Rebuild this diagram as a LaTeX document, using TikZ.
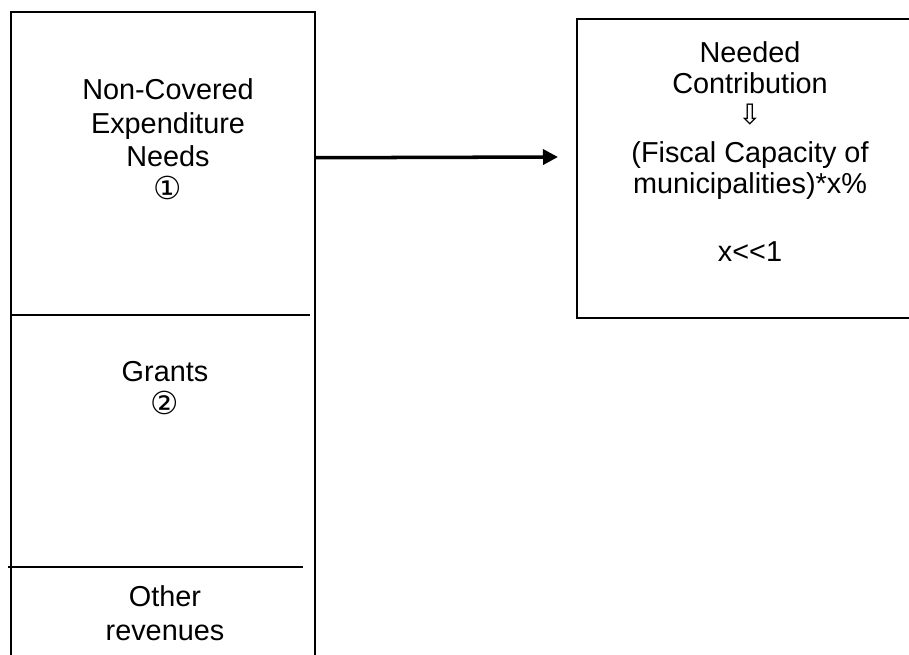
\documentclass[tikz,border=0pt]{standalone}
\usepackage{fontspec}
\setmainfont{Liberation Sans}
\newfontfamily\glyphfont{DejaVu Sans}
\usetikzlibrary{arrows.meta}

\begin{document}
\begin{tikzpicture}[
  x=0.01cm, y=-0.01cm,
  boxline/.style={draw, line width=0.6pt},
  txt/.style={align=center, inner sep=0pt, font=\fontsize{8.2pt}{9.5pt}\selectfont},
  flow/.style={line width=1pt, -{Triangle[length=0.15cm, width=0.15cm]}}
]
  \useasboundingbox (0,0) rectangle (909,655);
  \fill[white] (0,0) rectangle (909,655);
  \clip (0,0) rectangle (909,655);

  \node[boxline, minimum width=3.035cm, minimum height=6.88cm] (col) at (163.25,356) {};
  \draw[line width=0.6pt] (12,315) -- (310,315);
  \draw[line width=0.6pt] (8,567) -- (303,567);

  \node[txt, anchor=base] (needs) at (168,200) {Non-Covered\\Expenditure\\Needs\\{\glyphfont\fontsize{9pt}{9.5pt}\selectfont ①}};
  \node[txt, anchor=base] (grants) at (165,415) {Grants\\{\glyphfont\fontsize{9pt}{9.5pt}\selectfont ②}};
  \node[txt, anchor=base] (other) at (165,640) {Other\\revenues};

  \node[boxline, minimum width=3.46cm, minimum height=2.99cm] (contrib) at (750,168.5) {};
  \node[txt, font=\fontsize{8.2pt}{8.8pt}\selectfont, anchor=base] (contribtext) at (750,262)
    {Needed\\Contribution\\{\glyphfont\fontsize{8pt}{8.8pt}\selectfont ⇩}\\[0.07cm](Fiscal Capacity of\\municipalities)*x\%\\[0.38cm]x<{}<1};

  \coordinate (tip) at (558,157);
  \draw[flow] (col.north east) ++(0,147) -- (tip);
\end{tikzpicture}
\end{document}
